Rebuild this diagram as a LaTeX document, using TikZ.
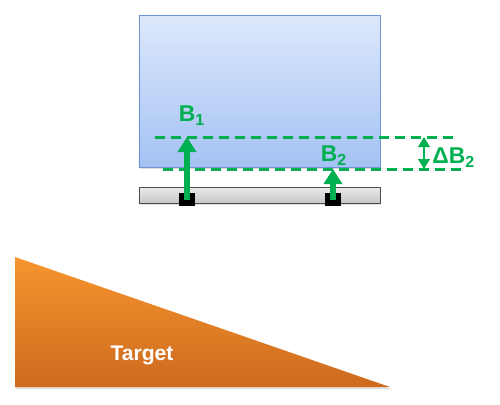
\documentclass[tikz,border=0pt]{standalone}
\usepackage{fontspec}
\setmainfont{Liberation Sans}
\usetikzlibrary{arrows.meta, positioning, calc, shadows}
\definecolor{markgreen}{HTML}{00B050}
\definecolor{blocktop}{HTML}{DDE8FB}
\definecolor{blockbottom}{HTML}{A4C2F4}
\definecolor{blockline}{HTML}{6F93CF}
\definecolor{targettop}{HTML}{F7952F}
\definecolor{targetbottom}{HTML}{CD6A1E}

\begin{document}
\begin{tikzpicture}[x=0.2mm, y=-0.2mm, >={Triangle[length=3mm, width=3.6mm]},
    softshadow/.style={drop shadow={opacity=0.25, shadow xshift=0.6pt, shadow yshift=-1.2pt}},
    guide/.style={markgreen, line width=0.6mm, dash pattern=on 2mm off 1.2mm},
    lift/.style={markgreen, line width=1.2mm},
    greenlabel/.style={text=markgreen, font=\fontsize{13}{15}\selectfont\bfseries, inner sep=0pt}]
    \useasboundingbox (0,0) rectangle (500,404);
    % block, bar and pins
    \node[draw=blockline, top color=blocktop, bottom color=blockbottom, minimum width=4.82cm, minimum height=3.04cm, inner sep=0pt, softshadow] (block) at (259.5,91) {};
    \node[draw=black!70, top color=black!8, bottom color=black!22, minimum width=4.82cm, minimum height=0.32cm, inner sep=0pt, softshadow] (bar) at (259.5,195) {};
    \begin{scope}[every node/.style={fill=black, minimum width=0.32cm, minimum height=0.26cm, inner sep=0pt}]
        \node (pinA) at (187,199.5) {};
        \node (pinB) at (333,199.5) {};
    \end{scope}
    % levels
    \coordinate (lvlA) at (155,137);
    \coordinate (lvlAend) at (458,137);
    \coordinate (lvlB) at (163,169);
    \coordinate (lvlBend) at (466,169);
    \draw[guide] (lvlA) -- (lvlAend);
    \draw[guide] (lvlB) -- (lvlBend);
    \draw[lift, ->] (pinA.center) -- (pinA |- lvlA);
    \draw[lift, ->] (pinB.center) -- (pinB |- lvlB);
    \coordinate (gapTop) at (424,137);
    \coordinate (gapBot) at (424,169);
    \draw[markgreen, line width=0.45mm, {Triangle[length=2mm, width=2.3mm]}-{Triangle[length=2mm, width=2.3mm]}] (gapTop) -- (gapBot);
    \node[greenlabel] (labA) at (192,116) {B\textsubscript{1}};
    \node[greenlabel] (labB) at (334,156) {B\textsubscript{2}};
    \node[greenlabel, anchor=west] (labGap) at (432,158) {ΔB\textsubscript{2}};
    % target
    \path[top color=targettop, bottom color=targetbottom, softshadow] (15,257) -- (15,387) -- (390,387) -- cycle;
    \node[text=white, font=\fontsize{12}{14}\selectfont\bfseries] (target) at (142,355) {Target};
\end{tikzpicture}
\end{document}
